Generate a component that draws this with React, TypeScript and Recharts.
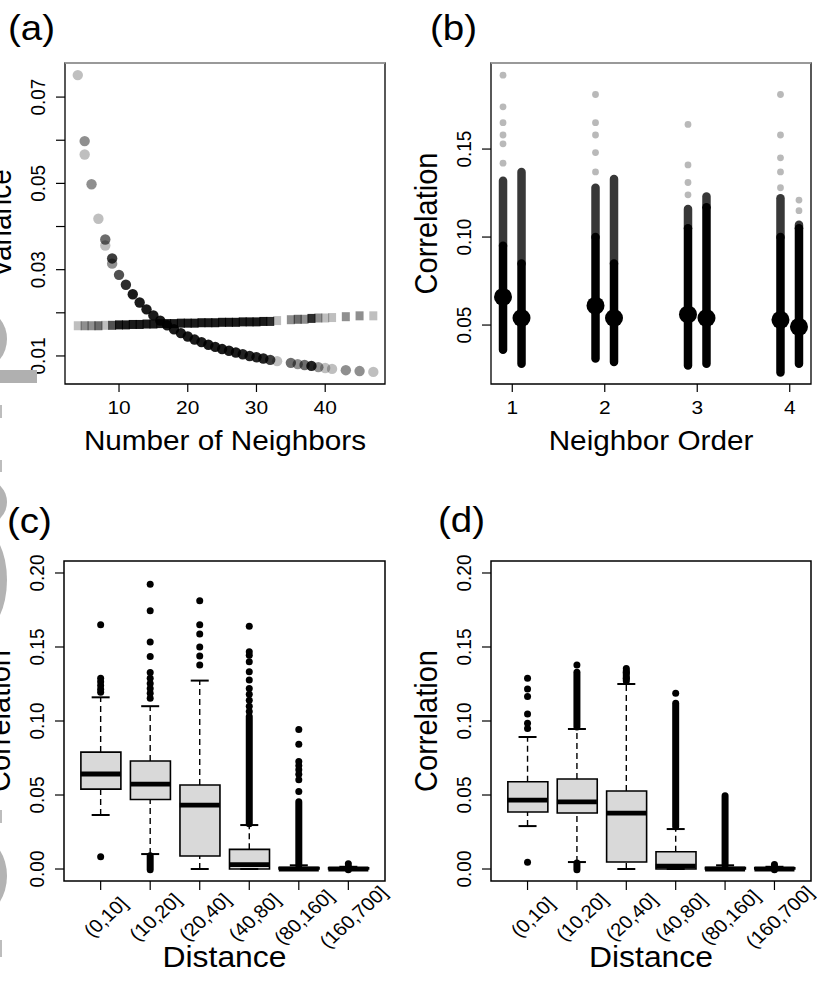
import React from "react";
import { ComposedChart, Scatter, Bar, XAxis, YAxis, ReferenceArea, ReferenceLine } from "recharts";

const FONT = '"Liberation Sans", Arial, Helvetica, sans-serif';
const STRETCH = 1.1;

// (a) variance against number of neighbours (circles and squares)
const circleNeighbors = [
  4, 5, 5, 6, 7, 8, 8, 9, 9, 10, 11, 12, 13, 14, 15, 16, 17, 18, 19, 20, 21, 22, 23, 24, 25,
  26, 27, 28, 29, 30, 31, 32, 33, 35, 36, 37, 38, 39, 40, 41, 43, 45, 47,
];
const circleVariance = [
  0.0751, 0.0598, 0.0567, 0.0498, 0.0418, 0.037, 0.0356, 0.0326, 0.0314, 0.0288, 0.0265, 0.0243,
  0.0224, 0.0208, 0.0194, 0.0182, 0.0171, 0.0162, 0.0153, 0.0145, 0.0138, 0.0132, 0.0126, 0.0121,
  0.0116, 0.0112, 0.0108, 0.0104, 0.01, 0.0097, 0.0094, 0.0091, 0.0088, 0.0084, 0.0081, 0.0079,
  0.0077, 0.0074, 0.0072, 0.007, 0.0067, 0.0065, 0.0063,
];
// how many semi-transparent points sit on top of each other
const circleOverlap = [
  1, 2, 1, 2, 1, 3, 1, 5, 2, 4, 6, 8, 8, 8, 8, 8, 8, 8, 8, 8, 8, 8, 8, 8, 8, 8, 8, 7, 7, 7, 7, 5,
  1, 3, 2, 3, 7, 2, 1, 1, 2, 2, 1,
];
const squareNeighbors = [
  4, 5, 6, 7, 8, 9, 10, 11, 12, 13, 14, 15, 16, 17, 18, 19, 20, 21, 22, 23, 24, 25, 26, 27, 28,
  29, 30, 31, 32, 33, 35, 36, 37, 38, 39, 40, 41, 43, 45, 47,
];
const squareVariance = [
  0.017, 0.017, 0.017, 0.017, 0.0171, 0.0171, 0.0172, 0.0172, 0.0173, 0.0173, 0.0174, 0.0174,
  0.0175, 0.0175, 0.0175, 0.0176, 0.0176, 0.0176, 0.0177, 0.0177, 0.0177, 0.0178, 0.0178, 0.0178,
  0.0179, 0.0179, 0.0179, 0.018, 0.018, 0.0182, 0.0184, 0.0185, 0.0185, 0.0187, 0.0188, 0.0188,
  0.0189, 0.0191, 0.0193, 0.0193,
];
const squareOverlap = [
  1, 2, 2, 3, 1, 4, 8, 8, 8, 8, 8, 8, 8, 8, 8, 8, 8, 8, 8, 8, 8, 8, 8, 8, 8, 8, 8, 8, 6, 1, 2, 3,
  2, 6, 2, 1, 1, 2, 2, 1,
];
const neighborTicks = [10, 20, 30, 40];
const varianceTicks = [0.01, 0.02, 0.03, 0.04, 0.05, 0.06, 0.07];
const varianceLabelled = [0.01, 0.03, 0.05, 0.07];

// (b) correlation by neighbour order, two columns per order
const neighborOrders = [1, 2, 3, 4];
const corrMinLeft = [0.036, 0.031, 0.027, 0.023];
const corrMinRight = [0.028, 0.029, 0.028, 0.028];
const corrDenseLeft = [0.095, 0.1, 0.105, 0.1];
const corrDenseRight = [0.085, 0.085, 0.117, 0.105];
const corrMaxLeft = [0.132, 0.128, 0.116, 0.122];
const corrMaxRight = [0.137, 0.133, 0.123, 0.107];
const corrMeanLeft = [0.066, 0.061, 0.056, 0.053];
const corrMeanRight = [0.054, 0.054, 0.054, 0.049];
const corrExtremeLeft = [
  [0.142, 0.153, 0.158, 0.165, 0.174, 0.192],
  [0.137, 0.148, 0.158, 0.165, 0.181],
  [0.124, 0.131, 0.141, 0.164],
  [0.128, 0.137, 0.145, 0.158, 0.181],
];
const corrExtremeRight = [[], [], [], [0.115, 0.121]];
const orderCorrTicks = [0.05, 0.1, 0.15];

// (c) and (d) correlation by distance class
const distanceBins = ["(0,10]", "(10,20]", "(20,40]", "(40,80]", "(80,160]", "(160,700]"];
const distanceCorrTicks = [0, 0.05, 0.1, 0.15, 0.2];

const cLower = [0.0365, 0.0101, 0, 0, 0, 0];
const cQ1 = [0.054, 0.047, 0.0088, 0, 0, 0];
const cMedian = [0.0642, 0.0574, 0.0432, 0.003, 0, 0];
const cQ3 = [0.079, 0.073, 0.0568, 0.0133, 0.001, 0.0008];
const cUpper = [0.116, 0.11, 0.1273, 0.0297, 0.0025, 0.0015];
const cOutliers = [
  [0.165, 0.1288, 0.1265, 0.124, 0.1215, 0.1195, 0.0083],
  [0.1924, 0.1745, 0.1534, 0.1435, 0.1327, 0.1288, 0.1254, 0.122, 0.1187, 0.1153],
  [0.1813, 0.165, 0.1588, 0.15, 0.144, 0.1378],
  [0.164, 0.1468, 0.1445, 0.14, 0.1333, 0.1277, 0.122, 0.118, 0.114, 0.11, 0.1065],
  [0.0943, 0.0843, 0.0727, 0.07, 0.067, 0.064, 0.0603, 0.0523],
  [0.0035],
];
const cOutlierRuns: number[][][] = [
  [],
  [[-0.0005, 0.009]],
  [],
  [[0.0305, 0.103]],
  [[0.0025, 0.0455]],
  [[-0.0005, 0.0015]],
];

const dLower = [0.029, 0.0047, 0, 0, 0, 0];
const dQ1 = [0.0385, 0.0378, 0.0047, 0, 0, 0];
const dMedian = [0.0466, 0.0453, 0.0378, 0.002, 0, 0];
const dQ3 = [0.059, 0.0608, 0.0527, 0.0117, 0.001, 0.0008];
const dUpper = [0.0892, 0.0946, 0.125, 0.027, 0.0025, 0.0015];
const dOutliers = [
  [0.1288, 0.1216, 0.1165, 0.1047, 0.0984, 0.095, 0.0045],
  [0.1378],
  [0.1355, 0.1327, 0.1288],
  [0.1187],
  [],
  [0.003],
];
const dOutlierRuns: number[][][] = [
  [],
  [[0.096, 0.133], [-0.0005, 0.004]],
  [[0.127, 0.134]],
  [[0.0285, 0.112]],
  [[0.0025, 0.0495]],
  [[-0.0005, 0.0015]],
];

const DODGE = 0.1;
const alphaOf = (n: number) => 1 - Math.pow(0.75, n);

function Txt({ x, y, size, rotate = 0, anchor = "middle", middle = false, children }: any) {
  return (
    <text
      transform={`translate(${x},${y}) scale(${STRETCH},1) rotate(${rotate})`}
      textAnchor={anchor}
      dy={middle ? "0.35em" : undefined}
      fontSize={size}
      fontFamily={FONT}
      fill="#000"
    >
      {children}
    </text>
  );
}

const Blank = () => <g />;
const Disc = (p: any) => (
  <circle cx={p.cx} cy={p.cy} r={5.2} fill="#000" fillOpacity={alphaOf(p.payload.n)} />
);
const Square = (p: any) => (
  <rect x={p.cx - 4} y={p.cy - 4.5} width={8} height={9} fill="#000" fillOpacity={alphaOf(p.payload.n)} />
);
const GreyDot = (p: any) => <circle cx={p.cx} cy={p.cy} r={3.4} fill="#b9b9b9" />;
const MeanDot = (p: any) => <circle cx={p.cx} cy={p.cy} r={9} fill="#000" />;
const Outlier = (p: any) => <circle cx={p.cx} cy={p.cy} r={3.5} fill="#000" />;
const Cap = (p: any) => (
  <line x1={p.cx - 9} x2={p.cx + 9} y1={p.cy} y2={p.cy} stroke="#000" strokeWidth={2} />
);
const MedianBar = (p: any) => (
  <line x1={p.cx - 20} x2={p.cx + 20} y1={p.cy} y2={p.cy} stroke="#000" strokeWidth={4.8} />
);

const xTitle = (text: string, dy: number, size: number) => (props: any) => {
  const vb = props.viewBox || {};
  return (
    <Txt x={vb.x + vb.width / 2} y={vb.y + dy} size={size}>
      {text}
    </Txt>
  );
};
const yTitle = (text: string, size: number) => (props: any) => {
  const vb = props.viewBox || {};
  return (
    <Txt x={vb.x + vb.width - 54.5} y={vb.y + vb.height / 2} size={size} rotate={-90}>
      {text}
    </Txt>
  );
};

const flatTick = (p: any) => (
  <Txt x={p.x} y={p.y + 22} size={19}>
    {p.payload.value}
  </Txt>
);
const uprightTick = (labelled: number[]) => (p: any) =>
  labelled.some((v) => Math.abs(v - p.payload.value) < 1e-9) ? (
    <Txt x={p.x - 18.5} y={p.y} size={19} rotate={-90} middle>
      {Number(p.payload.value).toFixed(2)}
    </Txt>
  ) : (
    <g />
  );
const binTick = (p: any) => (
  <Txt x={p.x + 5} y={p.y + 27} size={18.5} rotate={-45} middle>
    {distanceBins[p.payload.value - 1]}
  </Txt>
);

const segment = (
  key: string,
  x: number,
  from: number,
  to: number,
  stroke: string,
  width: number,
  dash?: string
) => (
  <Scatter
    key={key}
    data={[
      { x, y: from },
      { x, y: to },
    ]}
    dataKey="y"
    shape={Blank}
    fill="none"
    isAnimationActive={false}
    line={{
      stroke,
      strokeWidth: width,
      strokeLinecap: dash ? "butt" : "round",
      strokeDasharray: dash,
    }}
  />
);

const tickLine = { stroke: "#000", strokeWidth: 1.2 };

function VariancePanel() {
  const circles = circleNeighbors.map((x, i) => ({ x, y: circleVariance[i], n: circleOverlap[i] }));
  const squares = squareNeighbors.map((x, i) => ({ x, y: squareVariance[i], n: squareOverlap[i] }));
  const xd = [2.14, 48.7];
  const yd = [0.0035, 0.0779];
  return (
    <div style={{ position: "absolute", left: 0, top: 0 }}>
      <ComposedChart width={410} height={490} margin={{ top: 63, right: 25, bottom: 36, left: 5 }}>
        <XAxis
          type="number"
          dataKey="x"
          domain={xd}
          allowDataOverflow
          ticks={neighborTicks}
          interval={0}
          axisLine={false}
          tickLine={tickLine}
          tickSize={8}
          tickMargin={0}
          tick={flatTick}
          height={70}
          label={xTitle("Number of Neighbors", 66, 27)}
        />
        <YAxis
          type="number"
          domain={yd}
          allowDataOverflow
          ticks={varianceTicks}
          interval={0}
          axisLine={false}
          tickLine={tickLine}
          tickSize={9}
          tickMargin={0}
          tick={uprightTick(varianceLabelled)}
          width={60}
          label={yTitle("Variance", 28)}
        />
        <ReferenceArea x1={xd[0]} x2={xd[1]} y1={yd[0]} y2={yd[1]} fill="none" stroke="#000" strokeWidth={1.3} />
        <ReferenceLine y={yd[1]} stroke="#b8b8b8" strokeWidth={1.6} />
        <Scatter data={squares} dataKey="y" shape={Square} isAnimationActive={false} />
        <Scatter data={circles} dataKey="y" shape={Disc} isAnimationActive={false} />
      </ComposedChart>
    </div>
  );
}

function OrderPanel() {
  const xd = [0.77, 4.23];
  const yd = [0.0165, 0.1989];
  const cols = neighborOrders.flatMap((o, i) => [
    { x: o - DODGE, min: corrMinLeft[i], dense: corrDenseLeft[i], max: corrMaxLeft[i], mean: corrMeanLeft[i], ext: corrExtremeLeft[i] },
    { x: o + DODGE, min: corrMinRight[i], dense: corrDenseRight[i], max: corrMaxRight[i], mean: corrMeanRight[i], ext: corrExtremeRight[i] },
  ]);
  const greys = cols.flatMap((c) => c.ext.map((y) => ({ x: c.x, y })));
  const means = cols.map((c) => ({ x: c.x, y: c.mean }));
  return (
    <div style={{ position: "absolute", left: 405, top: 0 }}>
      <ComposedChart width={412} height={490} margin={{ top: 63, right: 6, bottom: 36, left: 26 }}>
        <XAxis
          type="number"
          dataKey="x"
          domain={xd}
          allowDataOverflow
          ticks={neighborOrders}
          interval={0}
          axisLine={false}
          tickLine={tickLine}
          tickSize={8}
          tickMargin={0}
          tick={flatTick}
          height={70}
          label={xTitle("Neighbor Order", 66, 27)}
        />
        <YAxis
          type="number"
          domain={yd}
          allowDataOverflow
          ticks={orderCorrTicks}
          interval={0}
          axisLine={false}
          tickLine={tickLine}
          tickSize={9}
          tickMargin={0}
          tick={uprightTick(orderCorrTicks)}
          width={60}
          label={yTitle("Correlation", 29)}
        />
        <ReferenceArea x1={xd[0]} x2={xd[1]} y1={yd[0]} y2={yd[1]} fill="none" stroke="#000" strokeWidth={1.3} />
        <ReferenceLine y={yd[1]} stroke="#b8b8b8" strokeWidth={1.6} />
        <Scatter data={greys} dataKey="y" shape={GreyDot} isAnimationActive={false} />
        {cols.map((c, i) => segment(`g${i}`, c.x, c.dense, c.max, "#383838", 8.5))}
        {cols.map((c, i) => segment(`k${i}`, c.x, c.min, c.dense, "#000", 8.5))}
        <Scatter data={means} dataKey="y" shape={MeanDot} isAnimationActive={false} />
      </ComposedChart>
    </div>
  );
}

function DistancePanel({ left, width, marginLeft, marginRight, lower, q1, median, q3, upper, outliers, runs }: any) {
  const xd = [0.26, 6.74];
  const yd = [-0.0081, 0.2081];
  const rows = distanceBins.map((_, i) => ({ x: i + 1, q1: q1[i], q3: q3[i] }));
  const medians = rows.map((r, i) => ({ x: r.x, y: median[i] }));
  const caps = rows.flatMap((r, i) => [
    { x: r.x, y: upper[i] },
    { x: r.x, y: lower[i] },
  ]);
  const dots = (outliers as number[][]).flatMap((list, i) => list.map((y) => ({ x: i + 1, y })));
  return (
    <div style={{ position: "absolute", left, top: 490 }}>
      <ComposedChart
        width={width}
        height={493}
        data={rows}
        margin={{ top: 71, right: marginRight, bottom: 12, left: marginLeft }}
      >
        <XAxis
          type="number"
          dataKey="x"
          domain={xd}
          allowDataOverflow
          ticks={[1, 2, 3, 4, 5, 6]}
          interval={0}
          axisLine={false}
          tickLine={tickLine}
          tickSize={9}
          tickMargin={0}
          tick={binTick}
          height={90}
          label={xTitle("Distance", 86, 29)}
        />
        <YAxis
          type="number"
          domain={yd}
          allowDataOverflow
          ticks={distanceCorrTicks}
          interval={0}
          axisLine={false}
          tickLine={tickLine}
          tickSize={9}
          tickMargin={0}
          tick={uprightTick(distanceCorrTicks)}
          width={60}
          label={yTitle("Correlation", 29)}
        />
        <ReferenceArea x1={xd[0]} x2={xd[1]} y1={yd[0]} y2={yd[1]} fill="none" stroke="#000" strokeWidth={1.5} />
        {rows.map((r, i) =>
          upper[i] > q3[i] ? segment(`u${i}`, r.x, q3[i], upper[i], "#000", 1.4, "6 4") : null
        )}
        {rows.map((r, i) =>
          lower[i] < q1[i] ? segment(`l${i}`, r.x, lower[i], q1[i], "#000", 1.4, "6 4") : null
        )}
        <Bar
          dataKey={(d: any) => [d.q1, d.q3]}
          barSize={40}
          fill="#d9d9d9"
          stroke="#000"
          strokeWidth={1.6}
          isAnimationActive={false}
        />
        <Scatter data={medians} dataKey="y" shape={MedianBar} isAnimationActive={false} />
        <Scatter data={caps} dataKey="y" shape={Cap} isAnimationActive={false} />
        {(runs as number[][][]).flatMap((list, i) =>
          list.map(([a, b], j) => segment(`r${i}-${j}`, i + 1, a, b, "#000", 7))
        )}
        <Scatter data={dots} dataKey="y" shape={Outlier} isAnimationActive={false} />
      </ComposedChart>
    </div>
  );
}

export default function App() {
  return (
    <div style={{ position: "relative", width: 817, height: 983, background: "#fff", overflow: "hidden" }}>
      <style>{"body{margin:0;background:#fff}"}</style>
      <VariancePanel />
      <OrderPanel />
      <DistancePanel
        left={0}
        width={410}
        marginLeft={4}
        marginRight={25}
        lower={cLower}
        q1={cQ1}
        median={cMedian}
        q3={cQ3}
        upper={cUpper}
        outliers={cOutliers}
        runs={cOutlierRuns}
      />
      <DistancePanel
        left={405}
        width={412}
        marginLeft={26}
        marginRight={6}
        lower={dLower}
        q1={dQ1}
        median={dMedian}
        q3={dQ3}
        upper={dUpper}
        outliers={dOutliers}
        runs={dOutlierRuns}
      />
      <svg
        width={817}
        height={983}
        style={{ position: "absolute", left: 0, top: 0, pointerEvents: "none" }}
      >
        <Txt x={8} y={39.5} size={35} anchor="start">(a)</Txt>
        <Txt x={430} y={39.5} size={35} anchor="start">(b)</Txt>
        <Txt x={7} y={532.5} size={35} anchor="start">(c)</Txt>
        <Txt x={438} y={531.5} size={35} anchor="start">(d)</Txt>
        <ellipse cx={-16} cy={339} rx={23} ry={28} fill="#b3b3b3" />
        <rect x={0} y={370} width={37} height={13} fill="#b0b0b0" />
        <rect x={0} y={405} width={2} height={13} fill="#bdbdbd" />
        <rect x={0} y={460} width={2} height={12} fill="#bdbdbd" />
        <ellipse cx={-14} cy={502} rx={21} ry={22} fill="#b3b3b3" />
        <ellipse cx={-20} cy={580} rx={27} ry={52} fill="#b3b3b3" />
        <rect x={0} y={810} width={2} height={13} fill="#bdbdbd" />
        <ellipse cx={-20} cy={876} rx={27} ry={38} fill="#b3b3b3" />
        <rect x={0} y={940} width={2} height={17} fill="#bdbdbd" />
      </svg>
    </div>
  );
}
